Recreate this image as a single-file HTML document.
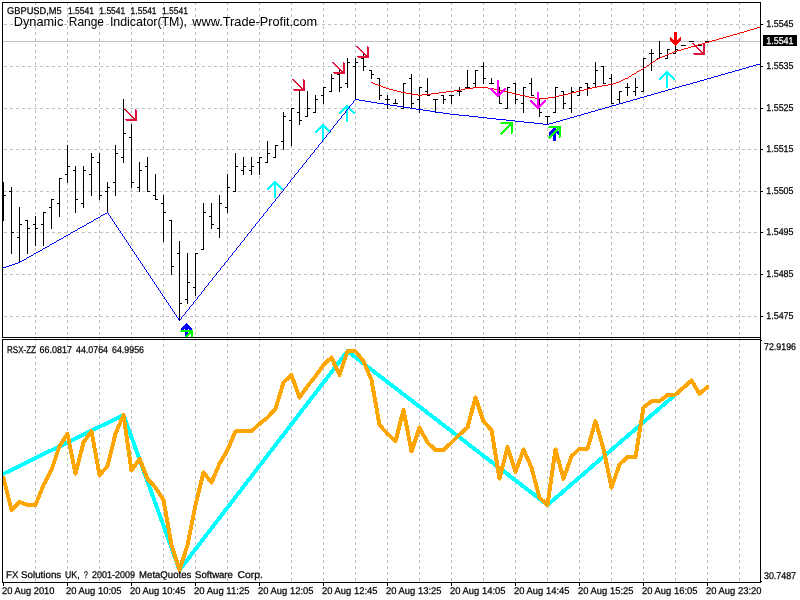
<!DOCTYPE html>
<html><head><meta charset="utf-8"><title>GBPUSD,M5</title>
<style>html,body{margin:0;padding:0;background:#fff;overflow:hidden}svg{display:block}text{font-family:"Liberation Sans",sans-serif;fill:#000}</style>
</head><body>
<svg width="800" height="600" viewBox="0 0 800 600">
<rect width="800" height="600" fill="#fff"/>
<g shape-rendering="crispEdges" stroke="#c0c0c0" stroke-width="1" fill="none">
<line x1="35.5" y1="2" x2="35.5" y2="337" stroke-dasharray="3 3" stroke-dashoffset="0"/>
<line x1="35.5" y1="338" x2="35.5" y2="582" stroke-dasharray="3 3" stroke-dashoffset="0"/>
<line x1="67.5" y1="2" x2="67.5" y2="337" stroke-dasharray="3 3" stroke-dashoffset="0"/>
<line x1="67.5" y1="338" x2="67.5" y2="582" stroke-dasharray="3 3" stroke-dashoffset="0"/>
<line x1="99.5" y1="2" x2="99.5" y2="337" stroke-dasharray="3 3" stroke-dashoffset="0"/>
<line x1="99.5" y1="338" x2="99.5" y2="582" stroke-dasharray="3 3" stroke-dashoffset="0"/>
<line x1="131.5" y1="2" x2="131.5" y2="337" stroke-dasharray="3 3" stroke-dashoffset="0"/>
<line x1="131.5" y1="338" x2="131.5" y2="582" stroke-dasharray="3 3" stroke-dashoffset="0"/>
<line x1="163.5" y1="2" x2="163.5" y2="337" stroke-dasharray="3 3" stroke-dashoffset="0"/>
<line x1="163.5" y1="338" x2="163.5" y2="582" stroke-dasharray="3 3" stroke-dashoffset="0"/>
<line x1="195.5" y1="2" x2="195.5" y2="337" stroke-dasharray="3 3" stroke-dashoffset="0"/>
<line x1="195.5" y1="338" x2="195.5" y2="582" stroke-dasharray="3 3" stroke-dashoffset="0"/>
<line x1="227.5" y1="2" x2="227.5" y2="337" stroke-dasharray="3 3" stroke-dashoffset="0"/>
<line x1="227.5" y1="338" x2="227.5" y2="582" stroke-dasharray="3 3" stroke-dashoffset="0"/>
<line x1="259.5" y1="2" x2="259.5" y2="337" stroke-dasharray="3 3" stroke-dashoffset="0"/>
<line x1="259.5" y1="338" x2="259.5" y2="582" stroke-dasharray="3 3" stroke-dashoffset="0"/>
<line x1="291.5" y1="2" x2="291.5" y2="337" stroke-dasharray="3 3" stroke-dashoffset="0"/>
<line x1="291.5" y1="338" x2="291.5" y2="582" stroke-dasharray="3 3" stroke-dashoffset="0"/>
<line x1="323.5" y1="2" x2="323.5" y2="337" stroke-dasharray="3 3" stroke-dashoffset="0"/>
<line x1="323.5" y1="338" x2="323.5" y2="582" stroke-dasharray="3 3" stroke-dashoffset="0"/>
<line x1="355.5" y1="2" x2="355.5" y2="337" stroke-dasharray="3 3" stroke-dashoffset="0"/>
<line x1="355.5" y1="338" x2="355.5" y2="582" stroke-dasharray="3 3" stroke-dashoffset="0"/>
<line x1="387.5" y1="2" x2="387.5" y2="337" stroke-dasharray="3 3" stroke-dashoffset="0"/>
<line x1="387.5" y1="338" x2="387.5" y2="582" stroke-dasharray="3 3" stroke-dashoffset="0"/>
<line x1="419.5" y1="2" x2="419.5" y2="337" stroke-dasharray="3 3" stroke-dashoffset="0"/>
<line x1="419.5" y1="338" x2="419.5" y2="582" stroke-dasharray="3 3" stroke-dashoffset="0"/>
<line x1="451.5" y1="2" x2="451.5" y2="337" stroke-dasharray="3 3" stroke-dashoffset="0"/>
<line x1="451.5" y1="338" x2="451.5" y2="582" stroke-dasharray="3 3" stroke-dashoffset="0"/>
<line x1="483.5" y1="2" x2="483.5" y2="337" stroke-dasharray="3 3" stroke-dashoffset="0"/>
<line x1="483.5" y1="338" x2="483.5" y2="582" stroke-dasharray="3 3" stroke-dashoffset="0"/>
<line x1="515.5" y1="2" x2="515.5" y2="337" stroke-dasharray="3 3" stroke-dashoffset="0"/>
<line x1="515.5" y1="338" x2="515.5" y2="582" stroke-dasharray="3 3" stroke-dashoffset="0"/>
<line x1="547.5" y1="2" x2="547.5" y2="337" stroke-dasharray="3 3" stroke-dashoffset="0"/>
<line x1="547.5" y1="338" x2="547.5" y2="582" stroke-dasharray="3 3" stroke-dashoffset="0"/>
<line x1="579.5" y1="2" x2="579.5" y2="337" stroke-dasharray="3 3" stroke-dashoffset="0"/>
<line x1="579.5" y1="338" x2="579.5" y2="582" stroke-dasharray="3 3" stroke-dashoffset="0"/>
<line x1="611.5" y1="2" x2="611.5" y2="337" stroke-dasharray="3 3" stroke-dashoffset="0"/>
<line x1="611.5" y1="338" x2="611.5" y2="582" stroke-dasharray="3 3" stroke-dashoffset="0"/>
<line x1="643.5" y1="2" x2="643.5" y2="337" stroke-dasharray="3 3" stroke-dashoffset="0"/>
<line x1="643.5" y1="338" x2="643.5" y2="582" stroke-dasharray="3 3" stroke-dashoffset="0"/>
<line x1="675.5" y1="2" x2="675.5" y2="337" stroke-dasharray="3 3" stroke-dashoffset="0"/>
<line x1="675.5" y1="338" x2="675.5" y2="582" stroke-dasharray="3 3" stroke-dashoffset="0"/>
<line x1="707.5" y1="2" x2="707.5" y2="337" stroke-dasharray="3 3" stroke-dashoffset="0"/>
<line x1="707.5" y1="338" x2="707.5" y2="582" stroke-dasharray="3 3" stroke-dashoffset="0"/>
<line x1="739.5" y1="2" x2="739.5" y2="337" stroke-dasharray="3 3" stroke-dashoffset="0"/>
<line x1="739.5" y1="338" x2="739.5" y2="582" stroke-dasharray="3 3" stroke-dashoffset="0"/>
<line x1="4" y1="24.5" x2="760" y2="24.5" stroke-dasharray="3 3"/>
<line x1="4" y1="66.5" x2="760" y2="66.5" stroke-dasharray="3 3"/>
<line x1="4" y1="108.5" x2="760" y2="108.5" stroke-dasharray="3 3"/>
<line x1="4" y1="149.5" x2="760" y2="149.5" stroke-dasharray="3 3"/>
<line x1="4" y1="191.5" x2="760" y2="191.5" stroke-dasharray="3 3"/>
<line x1="4" y1="232.5" x2="760" y2="232.5" stroke-dasharray="3 3"/>
<line x1="4" y1="274.5" x2="760" y2="274.5" stroke-dasharray="3 3"/>
<line x1="4" y1="316.5" x2="760" y2="316.5" stroke-dasharray="3 3"/>
</g>
<g shape-rendering="crispEdges">
<rect x="3" y="41" width="757" height="1" fill="#c0c0c0"/>
</g>
<g shape-rendering="crispEdges" fill="#000">
<rect x="3" y="182" width="1" height="39"/>
<rect x="3" y="195" width="3" height="1"/>
<rect x="11" y="187" width="1" height="67"/>
<rect x="9" y="191" width="3" height="1"/>
<rect x="11" y="232" width="3" height="1"/>
<rect x="19" y="207" width="1" height="56"/>
<rect x="17" y="237" width="3" height="1"/>
<rect x="19" y="224" width="3" height="1"/>
<rect x="27" y="220" width="1" height="34"/>
<rect x="25" y="220" width="3" height="1"/>
<rect x="27" y="228" width="3" height="1"/>
<rect x="35" y="216" width="1" height="30"/>
<rect x="33" y="224" width="3" height="1"/>
<rect x="35" y="228" width="3" height="1"/>
<rect x="43" y="212" width="1" height="34"/>
<rect x="41" y="224" width="3" height="1"/>
<rect x="43" y="212" width="3" height="1"/>
<rect x="51" y="199" width="1" height="30"/>
<rect x="49" y="207" width="3" height="1"/>
<rect x="51" y="199" width="3" height="1"/>
<rect x="59" y="178" width="1" height="39"/>
<rect x="57" y="203" width="3" height="1"/>
<rect x="59" y="178" width="3" height="1"/>
<rect x="67" y="145" width="1" height="38"/>
<rect x="65" y="174" width="3" height="1"/>
<rect x="67" y="166" width="3" height="1"/>
<rect x="75" y="166" width="1" height="47"/>
<rect x="73" y="170" width="3" height="1"/>
<rect x="75" y="199" width="3" height="1"/>
<rect x="83" y="166" width="1" height="42"/>
<rect x="81" y="203" width="3" height="1"/>
<rect x="83" y="170" width="3" height="1"/>
<rect x="91" y="153" width="1" height="43"/>
<rect x="89" y="174" width="3" height="1"/>
<rect x="91" y="157" width="3" height="1"/>
<rect x="99" y="153" width="1" height="47"/>
<rect x="97" y="162" width="3" height="1"/>
<rect x="99" y="195" width="3" height="1"/>
<rect x="107" y="182" width="1" height="31"/>
<rect x="105" y="191" width="3" height="1"/>
<rect x="107" y="187" width="3" height="1"/>
<rect x="115" y="145" width="1" height="51"/>
<rect x="113" y="182" width="3" height="1"/>
<rect x="115" y="153" width="3" height="1"/>
<rect x="123" y="99" width="1" height="64"/>
<rect x="121" y="157" width="3" height="1"/>
<rect x="123" y="133" width="3" height="1"/>
<rect x="131" y="124" width="1" height="64"/>
<rect x="129" y="137" width="3" height="1"/>
<rect x="131" y="182" width="3" height="1"/>
<rect x="139" y="162" width="1" height="30"/>
<rect x="137" y="187" width="3" height="1"/>
<rect x="139" y="170" width="3" height="1"/>
<rect x="147" y="157" width="1" height="35"/>
<rect x="145" y="166" width="3" height="1"/>
<rect x="147" y="191" width="3" height="1"/>
<rect x="155" y="174" width="1" height="26"/>
<rect x="153" y="195" width="3" height="1"/>
<rect x="155" y="199" width="3" height="1"/>
<rect x="163" y="195" width="1" height="47"/>
<rect x="161" y="203" width="3" height="1"/>
<rect x="163" y="212" width="3" height="1"/>
<rect x="171" y="220" width="1" height="55"/>
<rect x="169" y="220" width="3" height="1"/>
<rect x="171" y="266" width="3" height="1"/>
<rect x="179" y="241" width="1" height="80"/>
<rect x="177" y="253" width="3" height="1"/>
<rect x="179" y="303" width="3" height="1"/>
<rect x="187" y="253" width="1" height="51"/>
<rect x="185" y="299" width="3" height="1"/>
<rect x="187" y="282" width="3" height="1"/>
<rect x="195" y="253" width="1" height="43"/>
<rect x="193" y="287" width="3" height="1"/>
<rect x="195" y="253" width="3" height="1"/>
<rect x="203" y="203" width="1" height="47"/>
<rect x="201" y="249" width="3" height="1"/>
<rect x="203" y="212" width="3" height="1"/>
<rect x="211" y="203" width="1" height="26"/>
<rect x="209" y="216" width="3" height="1"/>
<rect x="211" y="224" width="3" height="1"/>
<rect x="219" y="195" width="1" height="43"/>
<rect x="217" y="228" width="3" height="1"/>
<rect x="219" y="203" width="3" height="1"/>
<rect x="227" y="174" width="1" height="39"/>
<rect x="225" y="207" width="3" height="1"/>
<rect x="227" y="187" width="3" height="1"/>
<rect x="235" y="153" width="1" height="39"/>
<rect x="233" y="191" width="3" height="1"/>
<rect x="235" y="166" width="3" height="1"/>
<rect x="243" y="157" width="1" height="18"/>
<rect x="241" y="170" width="3" height="1"/>
<rect x="243" y="166" width="3" height="1"/>
<rect x="251" y="157" width="1" height="18"/>
<rect x="249" y="170" width="3" height="1"/>
<rect x="251" y="166" width="3" height="1"/>
<rect x="259" y="157" width="1" height="18"/>
<rect x="257" y="162" width="3" height="1"/>
<rect x="259" y="157" width="3" height="1"/>
<rect x="267" y="141" width="1" height="22"/>
<rect x="265" y="162" width="3" height="1"/>
<rect x="267" y="153" width="3" height="1"/>
<rect x="275" y="145" width="1" height="13"/>
<rect x="273" y="157" width="3" height="1"/>
<rect x="275" y="145" width="3" height="1"/>
<rect x="283" y="112" width="1" height="38"/>
<rect x="281" y="141" width="3" height="1"/>
<rect x="283" y="116" width="3" height="1"/>
<rect x="291" y="108" width="1" height="38"/>
<rect x="289" y="120" width="3" height="1"/>
<rect x="291" y="108" width="3" height="1"/>
<rect x="299" y="91" width="1" height="34"/>
<rect x="297" y="112" width="3" height="1"/>
<rect x="299" y="120" width="3" height="1"/>
<rect x="307" y="91" width="1" height="26"/>
<rect x="305" y="116" width="3" height="1"/>
<rect x="307" y="108" width="3" height="1"/>
<rect x="315" y="95" width="1" height="18"/>
<rect x="313" y="112" width="3" height="1"/>
<rect x="315" y="99" width="3" height="1"/>
<rect x="323" y="87" width="1" height="17"/>
<rect x="321" y="95" width="3" height="1"/>
<rect x="323" y="87" width="3" height="1"/>
<rect x="331" y="74" width="1" height="18"/>
<rect x="329" y="91" width="3" height="1"/>
<rect x="331" y="78" width="3" height="1"/>
<rect x="339" y="70" width="1" height="22"/>
<rect x="337" y="74" width="3" height="1"/>
<rect x="339" y="87" width="3" height="1"/>
<rect x="347" y="58" width="1" height="30"/>
<rect x="345" y="83" width="3" height="1"/>
<rect x="347" y="62" width="3" height="1"/>
<rect x="355" y="58" width="1" height="42"/>
<rect x="353" y="66" width="3" height="1"/>
<rect x="355" y="62" width="3" height="1"/>
<rect x="363" y="53" width="1" height="18"/>
<rect x="361" y="58" width="3" height="1"/>
<rect x="363" y="66" width="3" height="1"/>
<rect x="371" y="70" width="1" height="9"/>
<rect x="369" y="70" width="3" height="1"/>
<rect x="371" y="74" width="3" height="1"/>
<rect x="379" y="78" width="1" height="22"/>
<rect x="377" y="78" width="3" height="1"/>
<rect x="379" y="95" width="3" height="1"/>
<rect x="387" y="95" width="1" height="14"/>
<rect x="385" y="99" width="3" height="1"/>
<rect x="387" y="99" width="3" height="1"/>
<rect x="395" y="99" width="1" height="5"/>
<rect x="393" y="103" width="3" height="1"/>
<rect x="395" y="103" width="3" height="1"/>
<rect x="403" y="83" width="1" height="26"/>
<rect x="401" y="108" width="3" height="1"/>
<rect x="403" y="83" width="3" height="1"/>
<rect x="411" y="74" width="1" height="35"/>
<rect x="409" y="78" width="3" height="1"/>
<rect x="411" y="103" width="3" height="1"/>
<rect x="419" y="87" width="1" height="26"/>
<rect x="417" y="99" width="3" height="1"/>
<rect x="419" y="87" width="3" height="1"/>
<rect x="427" y="78" width="1" height="18"/>
<rect x="425" y="91" width="3" height="1"/>
<rect x="427" y="95" width="3" height="1"/>
<rect x="435" y="99" width="1" height="14"/>
<rect x="433" y="99" width="3" height="1"/>
<rect x="435" y="99" width="3" height="1"/>
<rect x="443" y="95" width="1" height="9"/>
<rect x="441" y="95" width="3" height="1"/>
<rect x="443" y="99" width="3" height="1"/>
<rect x="451" y="95" width="1" height="9"/>
<rect x="449" y="95" width="3" height="1"/>
<rect x="451" y="95" width="3" height="1"/>
<rect x="459" y="87" width="1" height="9"/>
<rect x="457" y="91" width="3" height="1"/>
<rect x="459" y="91" width="3" height="1"/>
<rect x="467" y="70" width="1" height="18"/>
<rect x="465" y="87" width="3" height="1"/>
<rect x="467" y="87" width="3" height="1"/>
<rect x="475" y="70" width="1" height="18"/>
<rect x="473" y="83" width="3" height="1"/>
<rect x="475" y="70" width="3" height="1"/>
<rect x="483" y="62" width="1" height="22"/>
<rect x="481" y="66" width="3" height="1"/>
<rect x="483" y="78" width="3" height="1"/>
<rect x="491" y="78" width="1" height="6"/>
<rect x="489" y="83" width="3" height="1"/>
<rect x="491" y="83" width="3" height="1"/>
<rect x="499" y="87" width="1" height="17"/>
<rect x="497" y="87" width="3" height="1"/>
<rect x="499" y="103" width="3" height="1"/>
<rect x="507" y="87" width="1" height="22"/>
<rect x="505" y="108" width="3" height="1"/>
<rect x="507" y="87" width="3" height="1"/>
<rect x="515" y="83" width="1" height="21"/>
<rect x="513" y="83" width="3" height="1"/>
<rect x="515" y="99" width="3" height="1"/>
<rect x="523" y="87" width="1" height="26"/>
<rect x="521" y="103" width="3" height="1"/>
<rect x="523" y="87" width="3" height="1"/>
<rect x="531" y="78" width="1" height="18"/>
<rect x="529" y="83" width="3" height="1"/>
<rect x="531" y="95" width="3" height="1"/>
<rect x="539" y="99" width="1" height="18"/>
<rect x="537" y="99" width="3" height="1"/>
<rect x="539" y="112" width="3" height="1"/>
<rect x="547" y="116" width="1" height="9"/>
<rect x="545" y="116" width="3" height="1"/>
<rect x="547" y="116" width="3" height="1"/>
<rect x="555" y="87" width="1" height="26"/>
<rect x="553" y="112" width="3" height="1"/>
<rect x="555" y="87" width="3" height="1"/>
<rect x="563" y="91" width="1" height="18"/>
<rect x="561" y="91" width="3" height="1"/>
<rect x="563" y="103" width="3" height="1"/>
<rect x="571" y="87" width="1" height="26"/>
<rect x="569" y="108" width="3" height="1"/>
<rect x="571" y="91" width="3" height="1"/>
<rect x="579" y="87" width="1" height="9"/>
<rect x="577" y="95" width="3" height="1"/>
<rect x="579" y="87" width="3" height="1"/>
<rect x="587" y="83" width="1" height="13"/>
<rect x="585" y="83" width="3" height="1"/>
<rect x="587" y="87" width="3" height="1"/>
<rect x="595" y="62" width="1" height="26"/>
<rect x="593" y="83" width="3" height="1"/>
<rect x="595" y="70" width="3" height="1"/>
<rect x="603" y="66" width="1" height="18"/>
<rect x="601" y="66" width="3" height="1"/>
<rect x="603" y="83" width="3" height="1"/>
<rect x="611" y="74" width="1" height="30"/>
<rect x="609" y="78" width="3" height="1"/>
<rect x="611" y="103" width="3" height="1"/>
<rect x="619" y="91" width="1" height="13"/>
<rect x="617" y="99" width="3" height="1"/>
<rect x="619" y="91" width="3" height="1"/>
<rect x="627" y="83" width="1" height="13"/>
<rect x="625" y="87" width="3" height="1"/>
<rect x="627" y="87" width="3" height="1"/>
<rect x="635" y="78" width="1" height="18"/>
<rect x="633" y="91" width="3" height="1"/>
<rect x="635" y="87" width="3" height="1"/>
<rect x="643" y="58" width="1" height="34"/>
<rect x="641" y="91" width="3" height="1"/>
<rect x="643" y="58" width="3" height="1"/>
<rect x="651" y="49" width="1" height="22"/>
<rect x="649" y="53" width="3" height="1"/>
<rect x="651" y="53" width="3" height="1"/>
<rect x="659" y="41" width="1" height="18"/>
<rect x="657" y="58" width="3" height="1"/>
<rect x="659" y="53" width="3" height="1"/>
<rect x="667" y="49" width="1" height="10"/>
<rect x="665" y="58" width="3" height="1"/>
<rect x="667" y="49" width="3" height="1"/>
<rect x="675" y="45" width="1" height="9"/>
<rect x="673" y="53" width="3" height="1"/>
<rect x="675" y="49" width="3" height="1"/>
<rect x="681" y="45" width="3" height="1"/>
<rect x="683" y="45" width="3" height="1"/>
<rect x="689" y="41" width="3" height="1"/>
<rect x="691" y="41" width="3" height="1"/>
<rect x="697" y="45" width="3" height="1"/>
<rect x="699" y="45" width="3" height="1"/>
<rect x="705" y="41" width="3" height="1"/>
<rect x="707" y="41" width="3" height="1"/>
</g>
<g shape-rendering="crispEdges">
<path fill="#ff0000" d="M757 27h3v1h-3zM754 28h3v1h-3zM750 29h4v1h-4zM747 30h3v1h-3zM744 31h3v1h-3zM740 32h4v1h-4zM737 33h3v1h-3zM733 34h4v1h-4zM730 35h3v1h-3zM726 36h4v1h-4zM723 37h3v1h-3zM719 38h4v1h-4zM716 39h3v1h-3zM712 40h4v1h-4zM709 41h3v1h-3zM705 42h4v1h-4zM702 43h3v1h-3zM698 44h4v1h-4zM695 45h3v1h-3zM691 46h4v1h-4zM688 47h3v1h-3zM684 48h4v1h-4zM681 49h3v1h-3zM677 50h4v1h-4zM674 51h3v1h-3zM672 52h2v1h-2zM669 53h3v1h-3zM667 54h2v1h-2zM665 55h2v1h-2zM662 56h3v1h-3zM660 57h2v1h-2zM658 58h2v1h-2zM656 59h2v1h-2zM655 60h1v1h-1zM653 61h2v1h-2zM652 62h1v1h-1zM650 63h2v1h-2zM649 64h1v1h-1zM647 65h2v1h-2zM646 66h1v1h-1zM644 67h2v1h-2zM643 68h1v1h-1zM641 69h2v1h-2zM639 70h2v1h-2zM637 71h2v1h-2zM636 72h1v1h-1zM634 73h2v1h-2zM632 74h2v1h-2zM631 75h1v1h-1zM629 76h2v1h-2zM628 77h1v1h-1zM625 78h3v1h-3zM623 79h2v1h-2zM621 80h2v1h-2zM619 81h2v1h-2zM371 82h2v1h-2zM616 82h3v1h-3zM373 83h2v1h-2zM613 83h3v1h-3zM375 84h3v1h-3zM608 84h5v1h-5zM378 85h3v1h-3zM602 85h6v1h-6zM381 86h2v1h-2zM597 86h5v1h-5zM383 87h3v1h-3zM473 87h15v1h-15zM592 87h5v1h-5zM386 88h3v1h-3zM465 88h8v1h-8zM488 88h6v1h-6zM588 88h4v1h-4zM389 89h4v1h-4zM461 89h4v1h-4zM494 89h5v1h-5zM584 89h4v1h-4zM393 90h4v1h-4zM454 90h7v1h-7zM499 90h5v1h-5zM580 90h4v1h-4zM397 91h4v1h-4zM446 91h8v1h-8zM504 91h4v1h-4zM576 91h4v1h-4zM401 92h5v1h-5zM439 92h7v1h-7zM508 92h4v1h-4zM572 92h4v1h-4zM406 93h5v1h-5zM431 93h8v1h-8zM512 93h3v1h-3zM568 93h4v1h-4zM411 94h7v1h-7zM422 94h9v1h-9zM515 94h5v1h-5zM564 94h4v1h-4zM418 95h4v1h-4zM520 95h5v1h-5zM559 95h5v1h-5zM525 96h4v1h-4zM555 96h4v1h-4zM529 97h6v1h-6zM548 97h7v1h-7zM535 98h13v1h-13z"/>
<path fill="#dc143c" d="M124 109h2v1h-2zM135 109h1v1h-1zM125 110h2v1h-2zM135 110h2v1h-2zM126 111h2v1h-2zM135 111h2v1h-2zM127 112h2v1h-2zM135 112h2v1h-2zM128 113h2v1h-2zM135 113h2v1h-2zM129 114h2v1h-2zM135 114h2v1h-2zM130 115h2v1h-2zM135 115h2v1h-2zM131 116h2v1h-2zM135 116h2v1h-2zM132 117h2v1h-2zM135 117h2v1h-2zM133 118h4v1h-4zM125 119h12v1h-12zM126 120h11v1h-11z"/>
<path fill="#dc143c" d="M292 79h2v1h-2zM303 79h1v1h-1zM293 80h2v1h-2zM303 80h2v1h-2zM294 81h2v1h-2zM303 81h2v1h-2zM295 82h2v1h-2zM303 82h2v1h-2zM296 83h2v1h-2zM303 83h2v1h-2zM297 84h2v1h-2zM303 84h2v1h-2zM298 85h2v1h-2zM303 85h2v1h-2zM299 86h2v1h-2zM303 86h2v1h-2zM300 87h2v1h-2zM303 87h2v1h-2zM301 88h4v1h-4zM293 89h12v1h-12zM294 90h11v1h-11z"/>
<path fill="#dc143c" d="M332 62h2v1h-2zM343 62h1v1h-1zM333 63h2v1h-2zM343 63h2v1h-2zM334 64h2v1h-2zM343 64h2v1h-2zM335 65h2v1h-2zM343 65h2v1h-2zM336 66h2v1h-2zM343 66h2v1h-2zM337 67h2v1h-2zM343 67h2v1h-2zM338 68h2v1h-2zM343 68h2v1h-2zM339 69h2v1h-2zM343 69h2v1h-2zM340 70h2v1h-2zM343 70h2v1h-2zM341 71h4v1h-4zM333 72h12v1h-12zM334 73h11v1h-11z"/>
<path fill="#dc143c" d="M356 46h2v1h-2zM367 46h1v1h-1zM357 47h2v1h-2zM367 47h2v1h-2zM358 48h2v1h-2zM367 48h2v1h-2zM359 49h2v1h-2zM367 49h2v1h-2zM360 50h2v1h-2zM367 50h2v1h-2zM361 51h2v1h-2zM367 51h2v1h-2zM362 52h2v1h-2zM367 52h2v1h-2zM363 53h2v1h-2zM367 53h2v1h-2zM364 54h2v1h-2zM367 54h2v1h-2zM365 55h4v1h-4zM357 56h12v1h-12zM358 57h11v1h-11z"/>
<path fill="#dc143c" d="M692 43h2v1h-2zM703 43h1v1h-1zM693 44h2v1h-2zM703 44h2v1h-2zM694 45h2v1h-2zM703 45h2v1h-2zM695 46h2v1h-2zM703 46h2v1h-2zM696 47h2v1h-2zM703 47h2v1h-2zM697 48h2v1h-2zM703 48h2v1h-2zM698 49h2v1h-2zM703 49h2v1h-2zM699 50h2v1h-2zM703 50h2v1h-2zM700 51h2v1h-2zM703 51h2v1h-2zM701 52h4v1h-4zM693 53h12v1h-12zM694 54h11v1h-11z"/>
<path fill="#00ffff" d="M274 181h2v1h-2zM273 182h4v1h-4zM272 183h6v1h-6zM271 184h8v1h-8zM270 185h3v1h-3zM274 185h2v1h-2zM277 185h3v1h-3zM269 186h3v1h-3zM274 186h2v1h-2zM278 186h3v1h-3zM268 187h3v1h-3zM274 187h2v1h-2zM279 187h3v1h-3zM267 188h3v1h-3zM274 188h2v1h-2zM280 188h3v1h-3zM267 189h2v1h-2zM274 189h2v1h-2zM281 189h2v1h-2zM274 190h2v1h-2zM274 191h2v1h-2zM274 192h2v1h-2zM274 193h2v1h-2zM274 194h2v1h-2zM274 195h2v1h-2zM274 196h2v1h-2zM274 197h2v1h-2z"/>
<path fill="#00ffff" d="M322 124h2v1h-2zM321 125h4v1h-4zM320 126h6v1h-6zM319 127h8v1h-8zM318 128h3v1h-3zM322 128h2v1h-2zM325 128h3v1h-3zM317 129h3v1h-3zM322 129h2v1h-2zM326 129h3v1h-3zM316 130h3v1h-3zM322 130h2v1h-2zM327 130h3v1h-3zM315 131h3v1h-3zM322 131h2v1h-2zM328 131h3v1h-3zM315 132h2v1h-2zM322 132h2v1h-2zM329 132h2v1h-2zM322 133h2v1h-2zM322 134h2v1h-2zM322 135h2v1h-2zM322 136h2v1h-2zM322 137h2v1h-2zM322 138h2v1h-2zM322 139h2v1h-2zM322 140h2v1h-2z"/>
<path fill="#00ffff" d="M346 105h2v1h-2zM345 106h4v1h-4zM344 107h6v1h-6zM343 108h8v1h-8zM342 109h3v1h-3zM346 109h2v1h-2zM349 109h3v1h-3zM341 110h3v1h-3zM346 110h2v1h-2zM350 110h3v1h-3zM340 111h3v1h-3zM346 111h2v1h-2zM351 111h3v1h-3zM339 112h3v1h-3zM346 112h2v1h-2zM352 112h3v1h-3zM339 113h2v1h-2zM346 113h2v1h-2zM353 113h2v1h-2zM346 114h2v1h-2zM346 115h2v1h-2zM346 116h2v1h-2zM346 117h2v1h-2zM346 118h2v1h-2zM346 119h2v1h-2zM346 120h2v1h-2zM346 121h2v1h-2z"/>
<path fill="#00ffff" d="M666 71h2v1h-2zM665 72h4v1h-4zM664 73h6v1h-6zM663 74h8v1h-8zM662 75h3v1h-3zM666 75h2v1h-2zM669 75h3v1h-3zM661 76h3v1h-3zM666 76h2v1h-2zM670 76h3v1h-3zM660 77h3v1h-3zM666 77h2v1h-2zM671 77h3v1h-3zM659 78h3v1h-3zM666 78h2v1h-2zM672 78h3v1h-3zM659 79h2v1h-2zM666 79h2v1h-2zM673 79h2v1h-2zM666 80h2v1h-2zM666 81h2v1h-2zM666 82h2v1h-2zM666 83h2v1h-2zM666 84h2v1h-2zM666 85h2v1h-2zM666 86h2v1h-2zM666 87h2v1h-2z"/>
<path fill="#ff00ff" d="M497 80h2v1h-2zM497 81h2v1h-2zM497 82h2v1h-2zM497 83h2v1h-2zM497 84h2v1h-2zM497 85h2v1h-2zM497 86h2v1h-2zM497 87h2v1h-2zM490 88h2v1h-2zM497 88h2v1h-2zM504 88h2v1h-2zM490 89h3v1h-3zM497 89h2v1h-2zM503 89h3v1h-3zM491 90h3v1h-3zM497 90h2v1h-2zM502 90h3v1h-3zM492 91h3v1h-3zM497 91h2v1h-2zM501 91h3v1h-3zM493 92h3v1h-3zM497 92h2v1h-2zM500 92h3v1h-3zM494 93h8v1h-8zM495 94h6v1h-6zM496 95h4v1h-4zM497 96h2v1h-2z"/>
<path fill="#ff00ff" d="M537 92h2v1h-2zM537 93h2v1h-2zM537 94h2v1h-2zM537 95h2v1h-2zM537 96h2v1h-2zM537 97h2v1h-2zM537 98h2v1h-2zM537 99h2v1h-2zM530 100h2v1h-2zM537 100h2v1h-2zM544 100h2v1h-2zM530 101h3v1h-3zM537 101h2v1h-2zM543 101h3v1h-3zM531 102h3v1h-3zM537 102h2v1h-2zM542 102h3v1h-3zM532 103h3v1h-3zM537 103h2v1h-2zM541 103h3v1h-3zM533 104h3v1h-3zM537 104h2v1h-2zM540 104h3v1h-3zM534 105h8v1h-8zM535 106h6v1h-6zM536 107h4v1h-4zM537 108h2v1h-2z"/>
<path fill="#0000ff" d="M756 64h4v1h-4zM753 65h3v1h-3zM749 66h4v1h-4zM746 67h3v1h-3zM742 68h4v1h-4zM739 69h3v1h-3zM735 70h4v1h-4zM732 71h3v1h-3zM728 72h4v1h-4zM725 73h3v1h-3zM721 74h4v1h-4zM718 75h3v1h-3zM714 76h4v1h-4zM711 77h3v1h-3zM707 78h4v1h-4zM704 79h3v1h-3zM700 80h4v1h-4zM697 81h3v1h-3zM693 82h4v1h-4zM690 83h3v1h-3zM686 84h4v1h-4zM682 85h4v1h-4zM679 86h3v1h-3zM675 87h4v1h-4zM672 88h3v1h-3zM668 89h4v1h-4zM665 90h3v1h-3zM661 91h4v1h-4zM658 92h3v1h-3zM654 93h4v1h-4zM651 94h3v1h-3zM647 95h4v1h-4zM644 96h3v1h-3zM640 97h4v1h-4zM637 98h3v1h-3zM355 99h4v1h-4zM633 99h4v1h-4zM354 100h1v1h-1zM359 100h6v1h-6zM630 100h3v1h-3zM353 101h1v1h-1zM365 101h6v1h-6zM626 101h4v1h-4zM353 102h1v1h-1zM371 102h6v1h-6zM623 102h3v1h-3zM352 103h1v1h-1zM377 103h7v1h-7zM619 103h4v1h-4zM351 104h1v1h-1zM384 104h6v1h-6zM616 104h3v1h-3zM350 105h1v1h-1zM390 105h7v1h-7zM612 105h4v1h-4zM349 106h1v1h-1zM397 106h6v1h-6zM609 106h3v1h-3zM349 107h1v1h-1zM403 107h7v1h-7zM605 107h4v1h-4zM348 108h1v1h-1zM410 108h6v1h-6zM602 108h3v1h-3zM347 109h1v1h-1zM416 109h7v1h-7zM598 109h4v1h-4zM346 110h1v1h-1zM423 110h7v1h-7zM595 110h3v1h-3zM345 111h1v1h-1zM430 111h6v1h-6zM591 111h4v1h-4zM345 112h1v1h-1zM436 112h7v1h-7zM588 112h3v1h-3zM344 113h1v1h-1zM443 113h7v1h-7zM584 113h4v1h-4zM343 114h1v1h-1zM450 114h9v1h-9zM581 114h3v1h-3zM342 115h1v1h-1zM459 115h10v1h-10zM577 115h4v1h-4zM341 116h1v1h-1zM469 116h9v1h-9zM574 116h3v1h-3zM341 117h1v1h-1zM478 117h9v1h-9zM570 117h4v1h-4zM340 118h1v1h-1zM487 118h9v1h-9zM567 118h3v1h-3zM339 119h1v1h-1zM496 119h10v1h-10zM563 119h4v1h-4zM338 120h1v1h-1zM506 120h9v1h-9zM560 120h3v1h-3zM337 121h1v1h-1zM515 121h9v1h-9zM556 121h4v1h-4zM337 122h1v1h-1zM524 122h10v1h-10zM553 122h3v1h-3zM336 123h1v1h-1zM534 123h9v1h-9zM549 123h4v1h-4zM335 124h1v1h-1zM543 124h6v1h-6zM334 125h1v1h-1zM333 126h1v1h-1zM333 127h1v1h-1zM332 128h1v1h-1zM331 129h1v1h-1zM330 130h1v1h-1zM330 131h1v1h-1zM329 132h1v1h-1zM328 133h1v1h-1zM327 134h1v1h-1zM326 135h1v1h-1zM326 136h1v1h-1zM325 137h1v1h-1zM324 138h1v1h-1zM323 139h1v1h-1zM322 140h1v1h-1zM322 141h1v1h-1zM321 142h1v1h-1zM320 143h1v1h-1zM319 144h1v1h-1zM318 145h1v1h-1zM318 146h1v1h-1zM317 147h1v1h-1zM316 148h1v1h-1zM315 149h1v1h-1zM314 150h1v1h-1zM314 151h1v1h-1zM313 152h1v1h-1zM312 153h1v1h-1zM311 154h1v1h-1zM310 155h1v1h-1zM310 156h1v1h-1zM309 157h1v1h-1zM308 158h1v1h-1zM307 159h1v1h-1zM306 160h1v1h-1zM306 161h1v1h-1zM305 162h1v1h-1zM304 163h1v1h-1zM303 164h1v1h-1zM302 165h1v1h-1zM302 166h1v1h-1zM301 167h1v1h-1zM300 168h1v1h-1zM299 169h1v1h-1zM298 170h1v1h-1zM298 171h1v1h-1zM297 172h1v1h-1zM296 173h1v1h-1zM295 174h1v1h-1zM294 175h1v1h-1zM294 176h1v1h-1zM293 177h1v1h-1zM292 178h1v1h-1zM291 179h1v1h-1zM290 180h1v1h-1zM290 181h1v1h-1zM289 182h1v1h-1zM288 183h1v1h-1zM287 184h1v1h-1zM287 185h1v1h-1zM286 186h1v1h-1zM285 187h1v1h-1zM284 188h1v1h-1zM283 189h1v1h-1zM283 190h1v1h-1zM282 191h1v1h-1zM281 192h1v1h-1zM280 193h1v1h-1zM279 194h1v1h-1zM279 195h1v1h-1zM278 196h1v1h-1zM277 197h1v1h-1zM276 198h1v1h-1zM275 199h1v1h-1zM275 200h1v1h-1zM274 201h1v1h-1zM273 202h1v1h-1zM272 203h1v1h-1zM271 204h1v1h-1zM271 205h1v1h-1zM270 206h1v1h-1zM269 207h1v1h-1zM268 208h1v1h-1zM267 209h1v1h-1zM267 210h1v1h-1zM266 211h1v1h-1zM107 212h1v1h-1zM265 212h1v1h-1zM105 213h2v1h-2zM108 213h1v1h-1zM264 213h1v1h-1zM103 214h2v1h-2zM108 214h1v1h-1zM263 214h1v1h-1zM101 215h2v1h-2zM109 215h1v1h-1zM263 215h1v1h-1zM100 216h1v1h-1zM110 216h1v1h-1zM262 216h1v1h-1zM98 217h2v1h-2zM110 217h1v1h-1zM261 217h1v1h-1zM96 218h2v1h-2zM111 218h1v1h-1zM260 218h1v1h-1zM94 219h2v1h-2zM112 219h1v1h-1zM259 219h1v1h-1zM93 220h1v1h-1zM112 220h1v1h-1zM259 220h1v1h-1zM91 221h2v1h-2zM113 221h1v1h-1zM258 221h1v1h-1zM89 222h2v1h-2zM114 222h1v1h-1zM257 222h1v1h-1zM87 223h2v1h-2zM114 223h1v1h-1zM256 223h1v1h-1zM86 224h1v1h-1zM115 224h1v1h-1zM255 224h1v1h-1zM84 225h2v1h-2zM116 225h1v1h-1zM255 225h1v1h-1zM82 226h2v1h-2zM116 226h1v1h-1zM254 226h1v1h-1zM80 227h2v1h-2zM117 227h1v1h-1zM253 227h1v1h-1zM78 228h2v1h-2zM118 228h1v1h-1zM252 228h1v1h-1zM77 229h1v1h-1zM118 229h1v1h-1zM251 229h1v1h-1zM75 230h2v1h-2zM119 230h1v1h-1zM251 230h1v1h-1zM73 231h2v1h-2zM120 231h1v1h-1zM250 231h1v1h-1zM71 232h2v1h-2zM120 232h1v1h-1zM249 232h1v1h-1zM70 233h1v1h-1zM121 233h1v1h-1zM248 233h1v1h-1zM68 234h2v1h-2zM122 234h1v1h-1zM247 234h1v1h-1zM66 235h2v1h-2zM122 235h1v1h-1zM247 235h1v1h-1zM64 236h2v1h-2zM123 236h1v1h-1zM246 236h1v1h-1zM63 237h1v1h-1zM124 237h1v1h-1zM245 237h1v1h-1zM61 238h2v1h-2zM124 238h1v1h-1zM244 238h1v1h-1zM59 239h2v1h-2zM125 239h1v1h-1zM244 239h1v1h-1zM57 240h2v1h-2zM126 240h1v1h-1zM243 240h1v1h-1zM56 241h1v1h-1zM126 241h1v1h-1zM242 241h1v1h-1zM54 242h2v1h-2zM127 242h1v1h-1zM241 242h1v1h-1zM52 243h2v1h-2zM128 243h1v1h-1zM240 243h1v1h-1zM50 244h2v1h-2zM128 244h1v1h-1zM240 244h1v1h-1zM49 245h1v1h-1zM129 245h1v1h-1zM239 245h1v1h-1zM47 246h2v1h-2zM130 246h1v1h-1zM238 246h1v1h-1zM45 247h2v1h-2zM130 247h1v1h-1zM237 247h1v1h-1zM43 248h2v1h-2zM131 248h1v1h-1zM236 248h1v1h-1zM42 249h1v1h-1zM132 249h1v1h-1zM236 249h1v1h-1zM40 250h2v1h-2zM132 250h1v1h-1zM235 250h1v1h-1zM38 251h2v1h-2zM133 251h1v1h-1zM234 251h1v1h-1zM36 252h2v1h-2zM134 252h1v1h-1zM233 252h1v1h-1zM34 253h2v1h-2zM134 253h1v1h-1zM232 253h1v1h-1zM33 254h1v1h-1zM135 254h1v1h-1zM232 254h1v1h-1zM31 255h2v1h-2zM136 255h1v1h-1zM231 255h1v1h-1zM29 256h2v1h-2zM136 256h1v1h-1zM230 256h1v1h-1zM27 257h2v1h-2zM137 257h1v1h-1zM229 257h1v1h-1zM26 258h1v1h-1zM138 258h1v1h-1zM228 258h1v1h-1zM24 259h2v1h-2zM138 259h1v1h-1zM228 259h1v1h-1zM22 260h2v1h-2zM139 260h1v1h-1zM227 260h1v1h-1zM20 261h2v1h-2zM140 261h1v1h-1zM226 261h1v1h-1zM18 262h2v1h-2zM140 262h1v1h-1zM225 262h1v1h-1zM15 263h3v1h-3zM141 263h1v1h-1zM224 263h1v1h-1zM12 264h3v1h-3zM142 264h1v1h-1zM224 264h1v1h-1zM9 265h3v1h-3zM142 265h1v1h-1zM223 265h1v1h-1zM6 266h3v1h-3zM143 266h1v1h-1zM222 266h1v1h-1zM3 267h3v1h-3zM144 267h1v1h-1zM221 267h1v1h-1zM144 268h1v1h-1zM220 268h1v1h-1zM145 269h1v1h-1zM220 269h1v1h-1zM146 270h1v1h-1zM219 270h1v1h-1zM146 271h1v1h-1zM218 271h1v1h-1zM147 272h1v1h-1zM217 272h1v1h-1zM148 273h1v1h-1zM216 273h1v1h-1zM148 274h1v1h-1zM216 274h1v1h-1zM149 275h1v1h-1zM215 275h1v1h-1zM150 276h1v1h-1zM214 276h1v1h-1zM150 277h1v1h-1zM213 277h1v1h-1zM151 278h1v1h-1zM212 278h1v1h-1zM152 279h1v1h-1zM212 279h1v1h-1zM152 280h1v1h-1zM211 280h1v1h-1zM153 281h1v1h-1zM210 281h1v1h-1zM154 282h1v1h-1zM209 282h1v1h-1zM154 283h1v1h-1zM208 283h1v1h-1zM155 284h1v1h-1zM208 284h1v1h-1zM156 285h1v1h-1zM207 285h1v1h-1zM156 286h1v1h-1zM206 286h1v1h-1zM157 287h1v1h-1zM205 287h1v1h-1zM158 288h1v1h-1zM204 288h1v1h-1zM158 289h1v1h-1zM204 289h1v1h-1zM159 290h1v1h-1zM203 290h1v1h-1zM160 291h1v1h-1zM202 291h1v1h-1zM160 292h1v1h-1zM201 292h1v1h-1zM161 293h1v1h-1zM201 293h1v1h-1zM162 294h1v1h-1zM200 294h1v1h-1zM162 295h1v1h-1zM199 295h1v1h-1zM163 296h1v1h-1zM198 296h1v1h-1zM164 297h1v1h-1zM197 297h1v1h-1zM164 298h1v1h-1zM197 298h1v1h-1zM165 299h1v1h-1zM196 299h1v1h-1zM166 300h1v1h-1zM195 300h1v1h-1zM166 301h1v1h-1zM194 301h1v1h-1zM167 302h1v1h-1zM193 302h1v1h-1zM168 303h1v1h-1zM193 303h1v1h-1zM168 304h1v1h-1zM192 304h1v1h-1zM169 305h1v1h-1zM191 305h1v1h-1zM170 306h1v1h-1zM190 306h1v1h-1zM170 307h1v1h-1zM189 307h1v1h-1zM171 308h1v1h-1zM189 308h1v1h-1zM172 309h1v1h-1zM188 309h1v1h-1zM172 310h1v1h-1zM187 310h1v1h-1zM173 311h1v1h-1zM186 311h1v1h-1zM174 312h1v1h-1zM185 312h1v1h-1zM174 313h1v1h-1zM185 313h1v1h-1zM175 314h1v1h-1zM184 314h1v1h-1zM176 315h1v1h-1zM183 315h1v1h-1zM176 316h1v1h-1zM182 316h1v1h-1zM177 317h1v1h-1zM181 317h1v1h-1zM178 318h1v1h-1zM181 318h1v1h-1zM178 319h1v1h-1zM180 319h1v1h-1zM179 320h1v1h-1z"/>
<path fill="#0000ff" d="M554 127h1v1h-1zM553 128h3v1h-3zM552 129h5v1h-5zM551 130h7v1h-7zM550 131h9v1h-9zM549 132h11v1h-11zM549 133h3v1h-3zM553 133h3v1h-3zM557 133h3v1h-3zM549 134h2v1h-2zM553 134h3v1h-3zM558 134h2v1h-2zM549 135h1v1h-1zM553 135h3v1h-3zM559 135h1v1h-1zM553 136h3v1h-3zM553 137h3v1h-3zM553 138h3v1h-3zM553 139h3v1h-3zM553 140h3v1h-3z"/>
<path fill="#00ff00" d="M549 126h12v1h-12zM548 127h13v1h-13zM557 128h4v1h-4zM556 129h5v1h-5zM555 130h3v1h-3zM559 130h2v1h-2zM554 131h3v1h-3zM559 131h2v1h-2zM553 132h3v1h-3zM559 132h2v1h-2zM552 133h3v1h-3zM559 133h2v1h-2zM551 134h3v1h-3zM559 134h2v1h-2zM550 135h3v1h-3zM559 135h2v1h-2zM549 136h3v1h-3zM559 136h2v1h-2zM548 137h3v1h-3zM559 137h1v1h-1zM549 138h1v1h-1z"/>
<path fill="#00ff00" d="M501 122h12v1h-12zM500 123h13v1h-13zM509 124h4v1h-4zM508 125h5v1h-5zM507 126h3v1h-3zM511 126h2v1h-2zM506 127h3v1h-3zM511 127h2v1h-2zM505 128h3v1h-3zM511 128h2v1h-2zM504 129h3v1h-3zM511 129h2v1h-2zM503 130h3v1h-3zM511 130h2v1h-2zM502 131h3v1h-3zM511 131h2v1h-2zM501 132h3v1h-3zM511 132h2v1h-2zM500 133h3v1h-3zM511 133h1v1h-1zM501 134h1v1h-1z"/>
<path fill="#0000ff" d="M186 323h1v1h-1zM185 324h3v1h-3zM184 325h5v1h-5zM183 326h7v1h-7zM182 327h9v1h-9zM181 328h11v1h-11zM181 329h3v1h-3zM185 329h3v1h-3zM189 329h3v1h-3zM181 330h2v1h-2zM185 330h3v1h-3zM190 330h2v1h-2zM181 331h1v1h-1zM185 331h3v1h-3zM191 331h1v1h-1zM185 332h3v1h-3zM185 333h3v1h-3zM185 334h3v1h-3zM185 335h3v1h-3zM185 336h3v1h-3z"/>
<path fill="#00ff00" d="M181 330h12v1h-12zM180 331h13v1h-13zM189 332h4v1h-4zM188 333h5v1h-5zM187 334h3v1h-3zM191 334h2v1h-2zM186 335h3v1h-3zM191 335h2v1h-2zM185 336h3v1h-3zM191 336h2v1h-2z"/>
<path fill="#ff0000" d="M674 32h3v1h-3zM674 33h3v1h-3zM674 34h3v1h-3zM674 35h3v1h-3zM674 36h3v1h-3zM670 37h1v1h-1zM674 37h3v1h-3zM680 37h1v1h-1zM670 38h2v1h-2zM674 38h3v1h-3zM679 38h2v1h-2zM670 39h3v1h-3zM674 39h3v1h-3zM678 39h3v1h-3zM670 40h11v1h-11zM671 41h9v1h-9zM672 42h7v1h-7zM673 43h5v1h-5zM674 44h3v1h-3zM675 45h1v1h-1z"/>
</g>
<g shape-rendering="crispEdges" fill="#000">
<rect x="2" y="2" width="759" height="1"/>
<rect x="2" y="337" width="759" height="1"/>
<rect x="2" y="339" width="759" height="1"/>
<rect x="2" y="582" width="759" height="1"/>
<rect x="2" y="2" width="1" height="336"/>
<rect x="2" y="339" width="1" height="244"/>
<rect x="760" y="2" width="1" height="581"/>
<rect x="761" y="24" width="2" height="1"/>
<rect x="761" y="66" width="2" height="1"/>
<rect x="761" y="108" width="2" height="1"/>
<rect x="761" y="149" width="2" height="1"/>
<rect x="761" y="191" width="2" height="1"/>
<rect x="761" y="232" width="2" height="1"/>
<rect x="761" y="274" width="2" height="1"/>
<rect x="761" y="316" width="2" height="1"/>
<rect x="761" y="340" width="1" height="1"/>
<rect x="761" y="581" width="1" height="1"/>
<rect x="3" y="583" width="1" height="3"/>
<rect x="67" y="583" width="1" height="3"/>
<rect x="131" y="583" width="1" height="3"/>
<rect x="195" y="583" width="1" height="3"/>
<rect x="259" y="583" width="1" height="3"/>
<rect x="323" y="583" width="1" height="3"/>
<rect x="387" y="583" width="1" height="3"/>
<rect x="451" y="583" width="1" height="3"/>
<rect x="515" y="583" width="1" height="3"/>
<rect x="579" y="583" width="1" height="3"/>
<rect x="643" y="583" width="1" height="3"/>
<rect x="707" y="583" width="1" height="3"/>
</g>
<clipPath id="ic"><rect x="3" y="340" width="757" height="242"/></clipPath>
<g clip-path="url(#ic)" stroke-linejoin="round" stroke-linecap="round" shape-rendering="crispEdges">
<polyline points="3.50,473.75 123.50,415.00 179.50,570.00 347.50,351.25 547.50,505.00 675.50,394.50" fill="none" stroke="#00ffff" stroke-width="4" />
<polyline points="3.50,478.00 11.50,510.00 19.50,502.00 27.50,505.00 35.50,505.00 43.50,485.00 51.50,470.00 59.50,446.25 67.50,433.75 75.50,473.75 83.50,442.50 91.50,431.25 99.50,475.00 107.50,466.25 115.50,433.75 123.50,415.00 131.50,470.50 139.50,458.75 147.50,478.75 155.50,487.50 163.50,500.00 171.50,545.00 179.50,570.00 187.50,545.00 195.50,505.00 203.50,472.50 211.50,482.50 219.50,463.75 227.50,450.00 235.50,431.25 243.50,431.25 251.50,431.25 259.50,423.75 267.50,417.50 275.50,408.75 283.50,382.50 291.50,375.00 299.50,397.50 307.50,386.25 315.50,376.25 323.50,365.00 331.50,357.50 339.50,375.00 347.50,351.25 355.50,351.25 363.50,361.25 371.50,380.00 379.50,425.00 387.50,433.75 395.50,441.25 403.50,410.00 411.50,451.25 419.50,427.50 427.50,442.50 435.50,450.00 443.50,450.00 451.50,442.50 459.50,434.50 467.50,427.50 475.50,397.50 483.50,421.25 491.50,430.00 499.50,478.75 507.50,447.00 515.50,472.00 523.50,449.50 531.50,467.50 539.50,497.50 547.50,505.00 555.50,449.50 563.50,478.75 571.50,456.25 579.50,448.75 587.50,448.75 595.50,421.25 603.50,448.75 611.50,487.50 619.50,464.50 627.50,457.00 635.50,457.00 643.50,407.50 651.50,401.25 659.50,401.25 667.50,395.00 675.50,394.50 683.50,387.50 691.50,380.50 699.50,393.75 707.50,387.00" fill="none" stroke="#ffa500" stroke-width="4" />
</g>
<rect x="763" y="35" width="34" height="11" fill="#000" shape-rendering="crispEdges"/>
<filter id="gs" x="0" y="0" width="800" height="600" filterUnits="userSpaceOnUse" color-interpolation-filters="sRGB"><feColorMatrix type="saturate" values="0"/></filter>
<g filter="url(#gs)" text-rendering="geometricPrecision" stroke="#000" stroke-width="0.25">
<text x="7" y="13.9" font-size="9.8" textLength="54.8" lengthAdjust="spacingAndGlyphs">GBPUSD,M5</text>
<text x="68" y="13.9" font-size="9.8" textLength="26" lengthAdjust="spacingAndGlyphs">1.5541</text>
<text x="99.3" y="13.9" font-size="9.8" textLength="26" lengthAdjust="spacingAndGlyphs">1.5541</text>
<text x="130.6" y="13.9" font-size="9.8" textLength="26" lengthAdjust="spacingAndGlyphs">1.5541</text>
<text x="162" y="13.9" font-size="9.8" textLength="26" lengthAdjust="spacingAndGlyphs">1.5541</text>
<text x="13.75" y="25.8" font-size="12.4" textLength="49.55" lengthAdjust="spacingAndGlyphs" stroke="none" text-rendering="auto">Dynamic</text>
<text x="68.8" y="25.8" font-size="12.4" textLength="35.1" lengthAdjust="spacingAndGlyphs" stroke="none" text-rendering="auto">Range</text>
<text x="109.9" y="25.8" font-size="12.4" textLength="77.1" lengthAdjust="spacingAndGlyphs" stroke="none" text-rendering="auto">Indicator(TM),</text>
<text x="192.35" y="25.8" font-size="12.4" textLength="124.75" lengthAdjust="spacingAndGlyphs" stroke="none" text-rendering="auto">www.Trade-Profit.com</text>
<text x="7" y="352.9" font-size="9.8" textLength="29" lengthAdjust="spacingAndGlyphs">RSX-ZZ</text>
<text x="39.6" y="352.9" font-size="9.8" textLength="32.4" lengthAdjust="spacingAndGlyphs">66.0817</text>
<text x="76" y="352.9" font-size="9.8" textLength="32" lengthAdjust="spacingAndGlyphs">44.0764</text>
<text x="112" y="352.9" font-size="9.8" textLength="32" lengthAdjust="spacingAndGlyphs">64.9956</text>
<text x="6.1" y="577.9" font-size="9.8" textLength="12.3" lengthAdjust="spacingAndGlyphs">FX</text>
<text x="21" y="577.9" font-size="9.8" textLength="40.25" lengthAdjust="spacingAndGlyphs">Solutions</text>
<text x="65.1" y="577.9" font-size="9.8" textLength="14.5" lengthAdjust="spacingAndGlyphs">UK,</text>
<text x="84" y="577.9" font-size="9.8" textLength="3.8" lengthAdjust="spacingAndGlyphs">?</text>
<text x="91.9" y="577.9" font-size="9.8" textLength="43.0" lengthAdjust="spacingAndGlyphs">2001-2009</text>
<text x="139.1" y="577.9" font-size="9.8" textLength="52.15" lengthAdjust="spacingAndGlyphs">MetaQuotes</text>
<text x="195.1" y="577.9" font-size="9.8" textLength="37.8" lengthAdjust="spacingAndGlyphs">Software</text>
<text x="237.6" y="577.9" font-size="9.8" textLength="25.4" lengthAdjust="spacingAndGlyphs">Corp.</text>
<text x="2" y="593.9" font-size="9.8" textLength="52.5" lengthAdjust="spacingAndGlyphs">20 Aug 2010</text>
<text x="66" y="593.9" font-size="9.8" textLength="55.5" lengthAdjust="spacingAndGlyphs">20 Aug 10:05</text>
<text x="130" y="593.9" font-size="9.8" textLength="55.5" lengthAdjust="spacingAndGlyphs">20 Aug 10:45</text>
<text x="194" y="593.9" font-size="9.8" textLength="55.5" lengthAdjust="spacingAndGlyphs">20 Aug 11:25</text>
<text x="258" y="593.9" font-size="9.8" textLength="55.5" lengthAdjust="spacingAndGlyphs">20 Aug 12:05</text>
<text x="322" y="593.9" font-size="9.8" textLength="55.5" lengthAdjust="spacingAndGlyphs">20 Aug 12:45</text>
<text x="386" y="593.9" font-size="9.8" textLength="55.5" lengthAdjust="spacingAndGlyphs">20 Aug 13:25</text>
<text x="450" y="593.9" font-size="9.8" textLength="55.5" lengthAdjust="spacingAndGlyphs">20 Aug 14:05</text>
<text x="514" y="593.9" font-size="9.8" textLength="55.5" lengthAdjust="spacingAndGlyphs">20 Aug 14:45</text>
<text x="578" y="593.9" font-size="9.8" textLength="55.5" lengthAdjust="spacingAndGlyphs">20 Aug 15:25</text>
<text x="642" y="593.9" font-size="9.8" textLength="55.5" lengthAdjust="spacingAndGlyphs">20 Aug 16:05</text>
<text x="706" y="593.9" font-size="9.8" textLength="55.5" lengthAdjust="spacingAndGlyphs">20 Aug 23:20</text>
<text x="766.2" y="26.9" font-size="9.8" textLength="27.4" lengthAdjust="spacingAndGlyphs">1.5545</text>
<text x="766.2" y="68.9" font-size="9.8" textLength="27.4" lengthAdjust="spacingAndGlyphs">1.5535</text>
<text x="766.2" y="110.9" font-size="9.8" textLength="27.4" lengthAdjust="spacingAndGlyphs">1.5525</text>
<text x="766.2" y="151.9" font-size="9.8" textLength="27.4" lengthAdjust="spacingAndGlyphs">1.5515</text>
<text x="766.2" y="193.9" font-size="9.8" textLength="27.4" lengthAdjust="spacingAndGlyphs">1.5505</text>
<text x="766.2" y="234.9" font-size="9.8" textLength="27.4" lengthAdjust="spacingAndGlyphs">1.5495</text>
<text x="766.2" y="276.9" font-size="9.8" textLength="27.4" lengthAdjust="spacingAndGlyphs">1.5485</text>
<text x="766.2" y="318.9" font-size="9.8" textLength="27.4" lengthAdjust="spacingAndGlyphs">1.5475</text>
<text x="766.2" y="43.9" font-size="9.8" textLength="27.4" lengthAdjust="spacingAndGlyphs" style="fill:#fff" stroke="#fff">1.5541</text>
<text x="764" y="350.4" font-size="9.8" textLength="32" lengthAdjust="spacingAndGlyphs">72.9196</text>
<text x="764" y="578.9" font-size="9.8" textLength="32" lengthAdjust="spacingAndGlyphs">30.7487</text>
</g>
</svg></body></html>
